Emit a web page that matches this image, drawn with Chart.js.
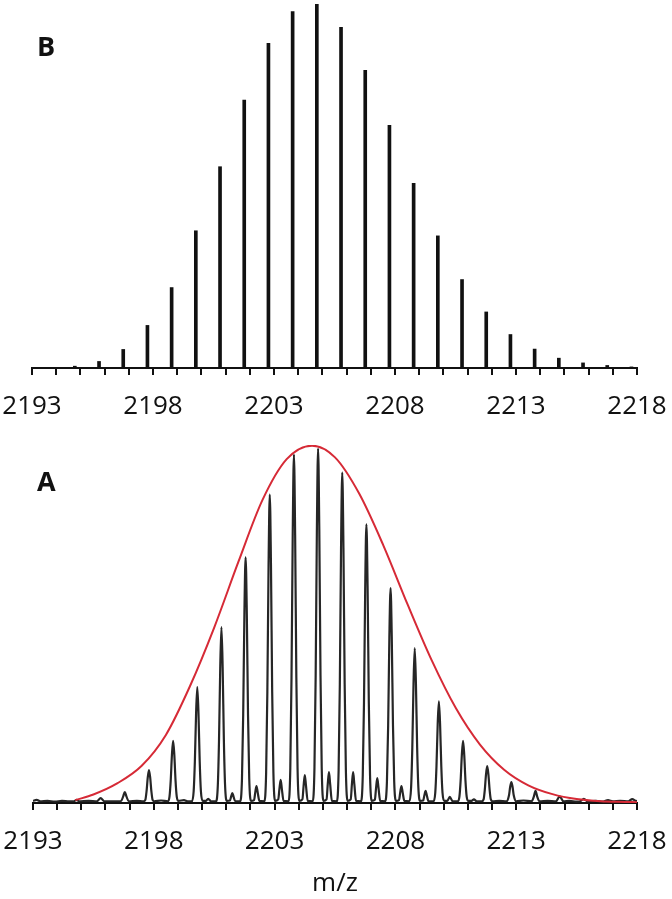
<!DOCTYPE html>
<html>
<head>
<meta charset="utf-8">
<script src="https://cdn.jsdelivr.net/npm/chart.js@4.4.1/dist/chart.umd.min.js"></script>
<style>
  body { margin: 0; background: #fff; }
  #wrap { position: relative; width: 672px; height: 899px; }
  canvas { position: absolute; left: 0; }
  #chartB { top: 0; }
  #chartA { top: 430px; }
  .panel { position: absolute; font-family: 'Open Sans'; font-weight: 700; font-size: 27px; line-height: 1; color: #111; }
</style>
</head>
<body>
<div id="wrap">
  <canvas id="chartB" width="672" height="430"></canvas>
  <canvas id="chartA" width="672" height="469"></canvas>
  <div class="panel" style="left:37px; top:32px;">B</div>
  <div class="panel" style="left:37px; top:467px;">A</div>
</div>
<script>
// m/z axis
const mzMin = 2193;
const mzMax = 2218;
const labelTicks = [2193, 2198, 2203, 2208, 2213, 2218];

// B: calculated isotope pattern (sticks, % of max)
const stickMz = [2194.77, 2195.77, 2196.77, 2197.77, 2198.77, 2199.77, 2200.77, 2201.77,
                 2202.77, 2203.77, 2204.77, 2205.77, 2206.77, 2207.77, 2208.77, 2209.77,
                 2210.77, 2211.77, 2212.77, 2213.77, 2214.77, 2215.77, 2216.77, 2217.77];
const stickInt = [0.5, 1.8, 5.1, 11.7, 22.1, 37.7, 55.3, 73.6,
                  89.2, 97.9, 100, 93.6, 81.8, 66.7, 50.7, 36.3,
                  24.3, 15.4, 9.2, 5.2, 2.7, 1.4, 0.7, 0.3];

// A: measured profile spectrum [m/z, intensity], read point by point
const tracePoints = [
  [2193.0, 0.6], [2193.15, 0.9], [2193.3, 0.5], [2193.6, 0.6], [2193.9, 0.4], [2194.2, 0.6], [2194.5, 0.5],
  [2194.7, 0.5], [2194.8, 0.9], [2194.9, 0.5], [2195.3, 0.6],
  [2195.65, 0.5], [2195.8, 1.4], [2195.95, 0.5], [2196.3, 0.5],
  [2196.64, 0.5], [2196.73, 1.8], [2196.8, 3.1], [2196.87, 1.8], [2196.96, 0.5], [2197.3, 0.6],
  [2197.58, 0.5], [2197.65, 0.9], [2197.7, 3.3], [2197.75, 7.2], [2197.8, 9.3], [2197.85, 7.2], [2197.9, 3.3], [2197.95, 0.9], [2198.02, 0.5],
  [2198.3, 0.7],
  [2198.58, 0.5], [2198.65, 1.8], [2198.7, 6.3], [2198.75, 13.5], [2198.8, 17.5], [2198.85, 13.5], [2198.9, 6.3], [2198.95, 1.8], [2199.02, 0.6],
  [2199.25, 0.8], [2199.4, 0.5],
  [2199.58, 0.5], [2199.65, 3.3], [2199.7, 11.8], [2199.75, 25.2], [2199.8, 32.7], [2199.85, 25.2], [2199.9, 11.8], [2199.95, 3.3], [2200.02, 0.6],
  [2200.15, 0.6], [2200.25, 1.2], [2200.37, 0.5],
  [2200.58, 0.5], [2200.65, 5.0], [2200.7, 17.9], [2200.75, 38.2], [2200.8, 49.6], [2200.85, 38.2], [2200.9, 17.9], [2200.95, 5.0], [2201.02, 0.6],
  [2201.15, 0.7], [2201.2, 1.8], [2201.25, 2.8], [2201.3, 1.8], [2201.37, 0.5],
  [2201.58, 0.5], [2201.65, 6.9], [2201.7, 24.9], [2201.75, 53.4], [2201.8, 69.3], [2201.85, 53.4], [2201.9, 24.9], [2201.95, 6.9], [2202.02, 0.6],
  [2202.15, 0.8], [2202.2, 3.0], [2202.25, 4.8], [2202.3, 3.0], [2202.37, 0.6],
  [2202.58, 0.5], [2202.65, 8.7], [2202.7, 31.3], [2202.75, 67.0], [2202.8, 87.0], [2202.85, 67.0], [2202.9, 31.3], [2202.95, 8.7], [2203.02, 0.6],
  [2203.15, 1.0], [2203.2, 4.0], [2203.25, 6.5], [2203.3, 4.0], [2203.37, 0.6],
  [2203.58, 0.5], [2203.65, 9.8], [2203.7, 35.4], [2203.75, 75.7], [2203.8, 98.3], [2203.85, 75.7], [2203.9, 35.4], [2203.95, 9.8], [2204.02, 0.6],
  [2204.15, 1.0], [2204.2, 4.8], [2204.25, 7.9], [2204.3, 4.8], [2204.37, 0.6],
  [2204.58, 0.5], [2204.65, 10.0], [2204.7, 36.0], [2204.75, 77.0], [2204.8, 100], [2204.85, 77.0], [2204.9, 36.0], [2204.95, 10.0], [2205.02, 0.6],
  [2205.15, 1.0], [2205.2, 5.3], [2205.25, 8.7], [2205.3, 5.3], [2205.37, 0.6],
  [2205.58, 0.5], [2205.65, 9.3], [2205.7, 33.6], [2205.75, 71.8], [2205.8, 93.2], [2205.85, 71.8], [2205.9, 33.6], [2205.95, 9.3], [2206.02, 0.6],
  [2206.15, 1.0], [2206.2, 5.3], [2206.25, 8.7], [2206.3, 5.3], [2206.37, 0.6],
  [2206.58, 0.5], [2206.65, 7.9], [2206.7, 28.3], [2206.75, 60.5], [2206.8, 78.6], [2206.85, 60.5], [2206.9, 28.3], [2206.95, 7.9], [2207.02, 0.6],
  [2207.15, 0.9], [2207.2, 4.3], [2207.25, 7.0], [2207.3, 4.3], [2207.37, 0.6],
  [2207.58, 0.5], [2207.65, 6.1], [2207.7, 21.8], [2207.75, 46.7], [2207.8, 60.6], [2207.85, 46.7], [2207.9, 21.8], [2207.95, 6.1], [2208.02, 0.6],
  [2208.15, 0.8], [2208.2, 3.0], [2208.25, 4.8], [2208.3, 3.0], [2208.37, 0.6],
  [2208.58, 0.5], [2208.65, 4.4], [2208.7, 15.7], [2208.75, 33.6], [2208.8, 43.7], [2208.85, 33.6], [2208.9, 15.7], [2208.95, 4.4], [2209.02, 0.6],
  [2209.15, 0.7], [2209.2, 2.2], [2209.25, 3.4], [2209.3, 2.2], [2209.37, 0.5],
  [2209.58, 0.5], [2209.65, 2.9], [2209.7, 10.3], [2209.75, 22.1], [2209.8, 28.7], [2209.85, 22.1], [2209.9, 10.3], [2209.95, 2.9], [2210.02, 0.6],
  [2210.15, 0.6], [2210.25, 1.7], [2210.37, 0.5],
  [2210.58, 0.5], [2210.65, 1.8], [2210.7, 6.3], [2210.75, 13.5], [2210.8, 17.5], [2210.85, 13.5], [2210.9, 6.3], [2210.95, 1.8], [2211.02, 0.6],
  [2211.15, 0.6], [2211.25, 1.0], [2211.37, 0.5],
  [2211.58, 0.5], [2211.65, 1.0], [2211.7, 3.7], [2211.75, 8.0], [2211.8, 10.4], [2211.85, 8.0], [2211.9, 3.7], [2211.95, 1.0], [2212.02, 0.5],
  [2212.3, 0.6],
  [2212.6, 0.5], [2212.7, 2.1], [2212.75, 4.5], [2212.8, 5.9], [2212.85, 4.5], [2212.9, 2.1], [2213.0, 0.5],
  [2213.3, 0.7],
  [2213.64, 0.5], [2213.73, 1.8], [2213.8, 3.4], [2213.87, 1.8], [2213.96, 0.5], [2214.3, 0.6],
  [2214.65, 0.5], [2214.8, 1.9], [2214.95, 0.5], [2215.2, 0.6], [2215.5, 0.4],
  [2215.65, 0.5], [2215.8, 1.2], [2215.95, 0.5], [2216.3, 0.6], [2216.6, 0.4], [2216.8, 0.8], [2217.0, 0.5], [2217.3, 0.6],
  [2217.65, 0.5], [2217.8, 1.1], [2217.95, 0.6], [2218.0, 0.5]
];

// A: fitted envelope (red)
const envelopeMz = [2194.75, 2195.5, 2196.5, 2197.5, 2198.5, 2199.5, 2200.5, 2201.5, 2202.5, 2203.5, 2204.55,
                    2205.5, 2206.5, 2207.5, 2208.5, 2209.5, 2210.5, 2211.5, 2212.5, 2213.5, 2214.5, 2215.5,
                    2216.5, 2217.5, 2218.0];
const envelopeInt = [0.8, 2.4, 5.6, 10.5, 19.2, 33.0, 49.5, 68.0, 85.5, 97.0, 100.8,
                     97.5, 87.3, 72.7, 56.1, 40.3, 26.8, 16.5, 9.4, 5.0, 2.5, 1.1,
                     0.5, 0.3, 0.2];

const ink = '#111';

function mzAxis(height, withTitle) {
  return {
    type: 'linear',
    min: mzMin,
    max: mzMax,
    offset: false,
    border: { display: true, color: ink, width: 2 },
    grid: { display: true, drawOnChartArea: false, drawTicks: true, tickLength: 7, color: ink, lineWidth: 2, offset: false },
    ticks: {
      stepSize: 1,
      autoSkip: false,
      maxRotation: 0,
      minRotation: 0,
      padding: 16,
      color: ink,
      font: { family: 'Open Sans', size: 26 },
      callback: v => labelTicks.includes(v) ? String(v) : ''
    },
    title: {
      display: withTitle,
      text: 'm/z',
      color: ink,
      font: { family: 'Open Sans', size: 26 },
      padding: { top: 0, bottom: 0 }
    },
    afterFit: scale => {
      scale.height = height;
      // let the layout padding alone decide where the axis ends
      scale.paddingLeft = 0;
      scale.paddingRight = 0;
    }
  };
}

const commonPlugins = { legend: { display: false }, tooltip: { enabled: false } };

new Chart(document.getElementById('chartB'), {
  type: 'bar',
  data: {
    datasets: [{
      data: stickMz.map((x, i) => ({ x: x, y: stickInt[i] })),
      backgroundColor: ink,
      barThickness: 3
    }]
  },
  options: {
    responsive: false,
    animation: false,
    layout: { padding: { left: 32, right: 35, top: 4, bottom: 0 } },
    plugins: commonPlugins,
    scales: {
      x: mzAxis(62, false),
      y: { display: false, min: 0, max: 100 }
    }
  }
});

new Chart(document.getElementById('chartA'), {
  type: 'line',
  data: {
    datasets: [
      {
        data: envelopeMz.map((x, i) => ({ x: x, y: envelopeInt[i] })),
        borderColor: '#d62a36',
        borderWidth: 2,
        pointRadius: 0,
        cubicInterpolationMode: 'monotone'
      },
      {
        data: tracePoints.map(p => ({ x: p[0], y: p[1] })),
        borderColor: '#262626',
        borderWidth: 2.2,
        pointRadius: 0,
        cubicInterpolationMode: 'monotone'
      }
    ]
  },
  options: {
    responsive: false,
    animation: false,
    layout: { padding: { left: 33, right: 35, top: 15, bottom: 0 } },
    plugins: commonPlugins,
    scales: {
      x: mzAxis(96, true),
      y: { display: false, min: 0, max: 101 }
    }
  }
});
</script>
</body>
</html>
